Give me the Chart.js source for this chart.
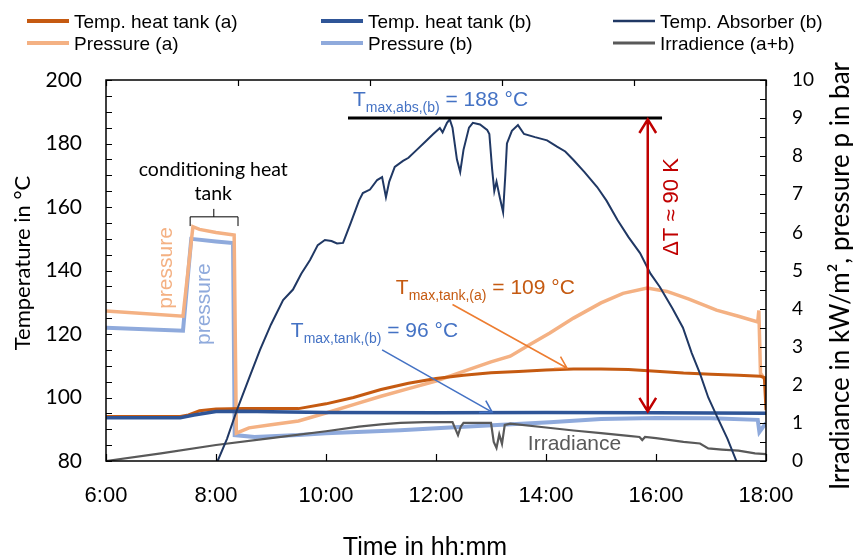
<!DOCTYPE html>
<html>
<head>
<meta charset="utf-8">
<script src="https://cdn.jsdelivr.net/npm/chart.js@4.4.1/dist/chart.umd.min.js"></script>
<style>
  html, body { margin: 0; padding: 0; background: #fff; }
</style>
</head>
<body>
<canvas id="chart" width="853" height="559"></canvas>
<script>
// time in hours (6 = 6:00)
const tankATime = [6.0, 7.35, 7.5, 7.7, 8.0, 8.5, 9.0, 9.5, 10.0, 10.5, 11.0, 11.5, 12.0, 12.5, 13.0, 13.5, 14.0, 14.5, 15.0, 15.5, 16.0, 16.5, 17.0, 17.5, 17.9, 17.97, 18.0]
const tankATemp = [94, 94, 94.5, 95.8, 96.4, 96.5, 96.5, 96.5, 98, 100, 102.5, 104.5, 106, 107, 107.8, 108.2, 108.7, 109, 109, 108.8, 108.3, 107.7, 107.3, 107, 106.7, 106.3, 96]

const tankBTime = [6.0, 7.35, 7.6, 8.0, 8.5, 9.0, 10.0, 12.0, 14.0, 16.0, 18.0]
const tankBTemp = [93.6, 93.6, 94.5, 95.6, 95.7, 95.5, 95.3, 95.2, 95.3, 95.2, 95.0]

const absTime = [8.03, 8.2, 8.38, 8.6, 8.8, 9.0, 9.22, 9.4, 9.55, 9.71, 9.85, 9.98, 10.1, 10.2, 10.31, 10.45, 10.6, 10.67, 10.8, 10.93, 11.02, 11.09, 11.15, 11.25, 11.4, 11.5, 11.65, 11.8, 11.95, 12.07, 12.12, 12.2, 12.25, 12.3, 12.38, 12.44, 12.5, 12.6, 12.67, 12.8, 12.93, 12.97, 13.02, 13.06, 13.1, 13.16, 13.22, 13.26, 13.29, 13.38, 13.49, 13.6, 13.8, 14.02, 14.2, 14.35, 14.5, 14.7, 14.93, 15.1, 15.3, 15.5, 15.71, 15.9, 16.07, 16.3, 16.49, 16.65, 16.8, 16.95, 17.11, 17.3, 17.47]
const absTemp = [80, 87, 96, 106, 115, 123, 130.7, 134, 139, 143.3, 148, 149.6, 149.3, 148.5, 148.7, 155, 162, 164.4, 165.5, 168.5, 169.4, 163.1, 168, 172.6, 174.5, 175.5, 178, 180.5, 183, 184.9, 183.5, 186.5, 187.6, 185, 175, 171, 178, 185, 186.5, 186, 184.3, 183, 172, 165, 168, 163, 158.4, 170, 180, 184, 185.8, 183, 182, 181, 179, 177.5, 174.8, 171, 166.3, 162, 155.9, 150.5, 145.5, 139, 134.8, 128, 122, 114, 107.5, 100, 94, 87, 79.6]

const presATime = [6.0, 7.4, 7.58, 7.7, 8.0, 8.33, 8.37, 8.6, 9.0, 9.5, 10.0, 10.5, 11.0, 11.5, 12.0, 12.5, 13.0, 13.35, 13.7, 14.07, 14.5, 15.0, 15.4, 15.84, 16.2, 16.6, 17.1, 17.5, 17.85, 17.87, 17.9, 18.0]
const presAVal = [3.94, 3.8, 6.15, 6.08, 6.0, 5.93, 0.73, 0.87, 0.95, 1.05, 1.26, 1.48, 1.7, 1.9, 2.1, 2.35, 2.6, 2.75, 3.05, 3.36, 3.75, 4.15, 4.4, 4.54, 4.45, 4.25, 3.96, 3.8, 3.65, 3.95, 2.3, 2.1]

const presBTime = [6.0, 7.4, 7.55, 8.0, 8.31, 8.34, 8.7, 9.5, 10.0, 11.35, 12.5, 13.2, 14.07, 15.0, 16.0, 17.0, 17.85, 17.88, 18.0]
const presBVal = [3.5, 3.42, 5.83, 5.76, 5.72, 0.68, 0.63, 0.68, 0.73, 0.81, 0.9, 0.95, 1.02, 1.1, 1.13, 1.12, 1.08, 0.76, 1.0]

const irrTime = [6.0, 7.0, 8.0, 9.0, 10.0, 10.6, 11.0, 11.35, 11.8, 12.3, 12.35, 12.4, 12.45, 12.5, 12.6, 13.0, 13.05, 13.1, 13.15, 13.2, 13.25, 13.35, 14.0, 14.5, 15.0, 15.5, 15.7, 15.75, 15.8, 16.0, 16.5, 16.8, 16.95, 17.2, 17.5, 17.8, 18.0]
const irrVal = [0.0, 0.2, 0.42, 0.6, 0.78, 0.9, 0.96, 1.0, 1.02, 1.02, 0.85, 0.68, 0.9, 1.0, 1.0, 1.0, 0.5, 0.34, 0.7, 0.45, 0.95, 0.98, 0.88, 0.8, 0.73, 0.66, 0.63, 0.55, 0.63, 0.6, 0.5, 0.46, 0.33, 0.3, 0.27, 0.2, 0.18]

const timeTicks = [6, 8, 10, 12, 14, 16, 18]

const pts = (ts, vs) => ts.map((t, i) => ({x: t, y: vs[i]}))

const ARIAL = "'Liberation Sans', Arial, sans-serif"
const CALI = "Lato, 'Open Sans', sans-serif"

function arrow(ctx, x1, y1, x2, y2, head, both) {
    const a = Math.atan2(y2 - y1, x2 - x1)
    const sp = 0.55
    ctx.beginPath()
    ctx.moveTo(x1, y1); ctx.lineTo(x2, y2)
    ctx.moveTo(x2 - head * Math.cos(a - sp), y2 - head * Math.sin(a - sp))
    ctx.lineTo(x2, y2)
    ctx.lineTo(x2 - head * Math.cos(a + sp), y2 - head * Math.sin(a + sp))
    if (both) {
        ctx.moveTo(x1 + head * Math.cos(a - sp), y1 + head * Math.sin(a - sp))
        ctx.lineTo(x1, y1)
        ctx.lineTo(x1 + head * Math.cos(a + sp), y1 + head * Math.sin(a + sp))
    }
    ctx.stroke()
}

// text with a subscript part
function subText(ctx, x, y, main, sub, rest, size, color) {
    ctx.fillStyle = color
    ctx.textAlign = 'left'
    ctx.textBaseline = 'alphabetic'
    ctx.font = size + 'px ' + ARIAL
    ctx.fillText(main, x, y)
    x += ctx.measureText(main).width
    ctx.font = Math.round(size * 0.68) + 'px ' + ARIAL
    ctx.fillText(sub, x, y + 6)
    x += ctx.measureText(sub).width
    ctx.font = size + 'px ' + ARIAL
    ctx.fillText(rest, x, y)
}

function vText(ctx, str, x, y, font, color) {
    ctx.save()
    ctx.translate(x, y)
    ctx.rotate(-Math.PI / 2)
    ctx.font = font
    ctx.fillStyle = color
    ctx.textAlign = 'center'
    ctx.textBaseline = 'alphabetic'
    ctx.fillText(str, 0, 0)
    ctx.restore()
}

const frame = {
    id: 'frame',
    afterDatasetsDraw(chart) {
        const {ctx, chartArea: a, scales} = chart
        ctx.save()
        ctx.strokeStyle = '#000'
        ctx.lineWidth = 1.5
        ctx.strokeRect(a.left, a.top, a.right - a.left, a.bottom - a.top)
        ctx.lineWidth = 1.2
        ctx.beginPath()
        for (let v = scales.y.min; v <= scales.y.max; v += 5) {
            const py = Math.round(scales.y.getPixelForValue(v)) + 0.5
            ctx.moveTo(a.left, py); ctx.lineTo(a.left + 6, py)
        }
        for (let v = scales.y2.min; v <= scales.y2.max; v += 0.5) {
            const py = Math.round(scales.y2.getPixelForValue(v)) + 0.5
            ctx.moveTo(a.right, py); ctx.lineTo(a.right - 6, py)
        }
        timeTicks.forEach(t => {
            const px = Math.round(scales.x.getPixelForValue(t)) + 0.5
            ctx.moveTo(px, a.bottom); ctx.lineTo(px, a.bottom - 7)
        })
        // secondary (top) axis, 5 divisions
        for (let i = 0; i <= 5; i++) {
            const px = Math.round(a.left + i * (a.right - a.left) / 5) + 0.5
            ctx.moveTo(px, a.top); ctx.lineTo(px, a.top + 6)
        }
        ctx.stroke()
        ctx.restore()
    }
}

const notes = {
    id: 'notes',
    afterDraw(chart) {
        const {ctx, scales} = chart
        const X = t => scales.x.getPixelForValue(t)
        const Y = v => scales.y.getPixelForValue(v)
        const P = v => scales.y2.getPixelForValue(v)
        ctx.save()

        // max absorber line and delta T arrow
        ctx.strokeStyle = '#000'
        ctx.lineWidth = 3
        ctx.beginPath(); ctx.moveTo(X(10.4), Y(188)); ctx.lineTo(X(16.11), Y(188)); ctx.stroke()
        ctx.strokeStyle = '#C00000'
        ctx.lineWidth = 2.5
        arrow(ctx, X(15.85), Y(187.6), X(15.85), Y(95.6), 16, true)
        vText(ctx, '\u0394T \u2248 90 K', X(16.4), Y(160), '22px ' + ARIAL, '#C00000')

        subText(ctx, X(10.49), Y(191.8), 'T', 'max,abs,(b)', ' = 188 \u00b0C', 21, '#4472C4')
        subText(ctx, X(11.27), Y(132.6), 'T', 'max,tank,(a)', ' = 109 \u00b0C', 21, '#C55A11')
        subText(ctx, X(9.36), Y(119.1), 'T', 'max,tank,(b)', ' = 96 \u00b0C', 21, '#4472C4')

        ctx.lineWidth = 1.6
        ctx.strokeStyle = '#ED7D31'
        arrow(ctx, X(12.3), Y(129.3), X(14.38), Y(109.3), 13, false)
        ctx.strokeStyle = '#4472C4'
        arrow(ctx, X(11.02), Y(115), X(13.02), Y(95.4), 13, false)

        // conditioning heat tank bracket
        ctx.strokeStyle = '#000'
        ctx.lineWidth = 1
        ctx.beginPath()
        ctx.moveTo(X(7.53), Y(154)); ctx.lineTo(X(7.53), Y(156.9)); ctx.lineTo(X(8.4), Y(156.9)); ctx.lineTo(X(8.4), Y(154))
        ctx.moveTo(X(7.96), Y(156.9)); ctx.lineTo(X(7.96), Y(159.4))
        ctx.stroke()
        ctx.fillStyle = '#000'
        ctx.font = '19.5px ' + CALI
        ctx.textAlign = 'center'
        ctx.textBaseline = 'alphabetic'
        ctx.fillText('conditioning heat', X(7.95), Y(169.8))
        ctx.fillText('tank', X(7.95), Y(162.2))

        vText(ctx, 'pressure', X(7.2), Y(140.8), '21px ' + ARIAL, '#F4B183')
        vText(ctx, 'pressure', X(7.89), Y(129.4), '21px ' + ARIAL, '#8FAADC')

        ctx.fillStyle = '#595959'
        ctx.font = '21px ' + ARIAL
        ctx.textAlign = 'left'
        ctx.fillText('Irradiance', X(13.67), P(0.29))

        // axis titles
        vText(ctx, 'Temperature in \u00b0C', 30, 263, '22px ' + CALI, '#000')
        vText(ctx, 'Irradiance in kW/m\u00b2, pressure p in bar', 849, 276, '26px ' + CALI, '#000')
        ctx.fillStyle = '#000'
        ctx.font = '25px ' + ARIAL
        ctx.textAlign = 'center'
        ctx.fillText('Time in hh:mm', 425, 555)

        // legend, 3 columns x 2 rows
        const colX = [27, 321, 613]
        const rowY = [21, 43]
        const legendOrder = [2, 1, 0, 4, 5, 3]
        legendOrder.forEach((di, k) => {
            const ds = chart.data.datasets[di]
            const x = colX[k % 3], y = rowY[Math.floor(k / 3)]
            ctx.strokeStyle = ds.borderColor
            ctx.lineWidth = ds.legendWidth
            ctx.beginPath(); ctx.moveTo(x, y); ctx.lineTo(x + 42, y); ctx.stroke()
            ctx.fillStyle = '#000'
            ctx.font = '19px ' + ARIAL
            ctx.textAlign = 'left'
            ctx.fillText(ds.label, x + 47, y + 7)
        })
        ctx.restore()
    }
}

const line = (label, data, color, width, axis, legendWidth) => ({
    label: label, data: data, borderColor: color, backgroundColor: color,
    borderWidth: width, pointRadius: 0, tension: 0, yAxisID: axis, legendWidth: legendWidth
})

const ctx = document.getElementById('chart')
const myChart = new Chart(ctx, {
    type: 'line',
    data: {
        datasets: [
            line('Temp. Absorber (b)', pts(absTime, absTemp), '#203864', 2, 'y', 2.5),
            line('Temp. heat tank (b)', pts(tankBTime, tankBTemp), '#2F5597', 3.5, 'y', 4),
            line('Temp. heat tank (a)', pts(tankATime, tankATemp), '#C55A11', 3, 'y', 4),
            line('Irradience (a+b)', pts(irrTime, irrVal), '#595959', 2.2, 'y2', 3),
            line('Pressure (a)', pts(presATime, presAVal), '#F4B183', 3.5, 'y2', 4),
            line('Pressure (b)', pts(presBTime, presBVal), '#8FAADC', 4, 'y2', 4)
        ]
    },
    options: {
        responsive: false,
        animation: false,
        layout: { padding: { top: 80 } },
        plugins: { legend: { display: false }, tooltip: { enabled: false } },
        scales: {
            x: {
                type: 'linear', position: 'bottom', min: 6, max: 18,
                afterBuildTicks: s => { s.ticks = timeTicks.map(v => ({value: v})) },
                ticks: { callback: v => v + ':00', font: { family: ARIAL, size: 22 }, color: '#000', padding: 22, maxRotation: 0, autoSkip: false },
                grid: { display: false, drawTicks: false },
                border: { display: false },
                afterFit: s => { s.height = 98 }
            },
            y: {
                position: 'left', min: 80, max: 200,
                ticks: { stepSize: 20, font: { family: CALI, size: 21 }, color: '#000', padding: 24 },
                grid: { display: false, drawTicks: false },
                border: { display: false },
                afterFit: s => { s.width = 106 }
            },
            y2: {
                position: 'right', min: 0, max: 10,
                ticks: { stepSize: 1, font: { family: CALI, size: 19 }, color: '#000', padding: 26 },
                grid: { display: false, drawTicks: false },
                border: { display: false },
                afterFit: s => { s.width = 87 }
            }
        }
    },
    plugins: [frame, notes]
})
</script>
</body>
</html>
